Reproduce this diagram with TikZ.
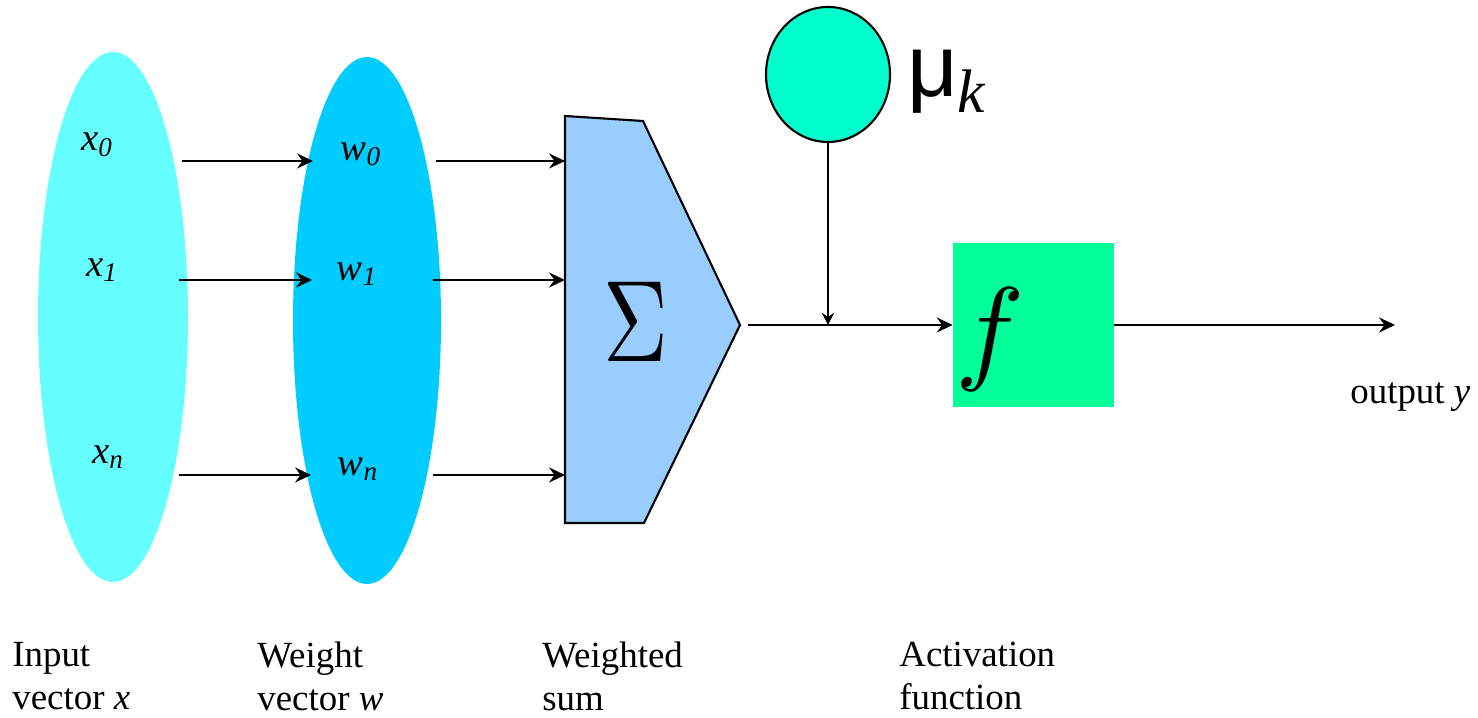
\documentclass[tikz,border=0pt]{standalone}
\usepackage{fontspec}
\setmainfont{Liberation Serif}
\newfontfamily\musans{Liberation Sans}
\usepackage{tikz}
\usetikzlibrary{positioning,arrows.meta,shapes.geometric}
\definecolor{inputcyan}{HTML}{66FFFF}
\definecolor{weightblue}{HTML}{00CCFF}
\definecolor{sumblue}{HTML}{99CCFF}
\definecolor{biasgreen}{HTML}{00FFCC}
\definecolor{actgreen}{HTML}{00FF99}

\begin{document}
\begin{tikzpicture}[
  arr/.style={line width=1.4pt,-{Stealth[length=9pt,width=8.5pt,inset=3pt]}},
  lbl/.style={font=\fontsize{21}{24.4}\selectfont,align=left,anchor=north west,inner sep=0pt},
  sym/.style={font=\fontsize{22}{26}\selectfont\itshape,inner sep=0pt}]
\useasboundingbox (0,0) rectangle (29.56,-14.36);
% input and weight vectors
\node[ellipse,fill=inputcyan,minimum width=3.00cm,minimum height=10.60cm,inner sep=0] (invec) at (2.26,-6.34) {};
\node[ellipse,fill=weightblue,minimum width=2.96cm,minimum height=10.54cm,inner sep=0] (wvec) at (7.34,-6.41) {};
\node[sym] (x0) at (1.94,-2.90) {x\textsubscript{0}};
\node[sym] (x1) at (2.04,-5.40) {x\textsubscript{1}};
\node[sym] (xn) at (2.16,-9.14) {x\textsubscript{n}};
\node[sym] (w0) at (7.22,-3.08) {w\textsubscript{0}};
\node[sym] (w1) at (7.14,-5.48) {w\textsubscript{1}};
\node[sym] (wn) at (7.16,-9.38) {w\textsubscript{n}};
% summation block
\draw[line width=1.2pt,fill=sumblue,line join=miter] (11.30,-2.32) -- (12.86,-2.42) -- (14.80,-6.50) -- (12.88,-10.46) -- (11.30,-10.46) -- cycle;
\coordinate (sumtip) at (14.80,-6.50);
\coordinate (sumin) at (11.30,-6.50);
\node[inner sep=0] (sigma) at (12.71,-6.44) {\scalebox{5.1}[6.6]{$\Sigma$}};
% input -> weight -> sum
\coordinate (a0) at (3.64,-3.22);
\coordinate (b0) at (6.26,-3.22);
\draw[arr] (a0) -- (b0);
\coordinate (a1) at (3.58,-5.60);
\coordinate (b1) at (6.24,-5.60);
\draw[arr] (a1) -- (b1);
\coordinate (a2) at (3.58,-9.50);
\coordinate (b2) at (6.22,-9.50);
\draw[arr] (a2) -- (b2);
\coordinate (c0) at (8.72,-3.22);
\draw[arr] (c0) -- (c0 -| sumin);
\coordinate (c1) at (8.66,-5.60);
\draw[arr] (c1) -- (c1 -| sumin);
\coordinate (c2) at (8.66,-9.50);
\draw[arr] (c2) -- (c2 -| sumin);
% bias
\node[ellipse,draw,line width=1.2pt,fill=biasgreen,minimum width=2.48cm,minimum height=2.70cm,inner sep=0] (bias) at (16.56,-1.49) {};
\node[anchor=base west,inner sep=0] (mu) at (18.14,-1.94) {{\musans\fontsize{50}{56}\selectfont μ}\raisebox{-9pt}{\fontsize{35}{40}\selectfont\itshape k}};
% activation
\node[fill=actgreen,minimum width=3.22cm,minimum height=3.28cm,inner sep=0] (act) at (20.67,-6.50) {};
\node[inner sep=0] (fsym) at (19.80,-6.80) {\scalebox{6.6}{$f$}};
\draw[arr] ([xshift=0.16cm]sumtip) -- (act.west);
\draw[line width=1pt,-{Stealth[length=7pt,width=7pt,inset=2.5pt]}] (bias.south) -- (bias.south |- act.west);
\coordinate (out) at (27.90,-6.50);
\draw[arr] (act.east) -- (out);
\node[font=\fontsize{21}{24.4}\selectfont,anchor=base west,inner sep=0] (outlbl) at (27.00,-8.08) {output \textit{y}};
% captions
\node[lbl] (inlbl) at (0.24,-12.84) {Input\\vector \textit{x}};
\node[lbl] (wlbl) at (5.14,-12.84) {Weight\\vector \textit{w}};
\node[lbl] (sumlbl) at (10.84,-12.84) {Weighted\\sum};
\node[lbl] (actlbl) at (17.98,-12.84) {Activation\\function};
\end{tikzpicture}
\end{document}
